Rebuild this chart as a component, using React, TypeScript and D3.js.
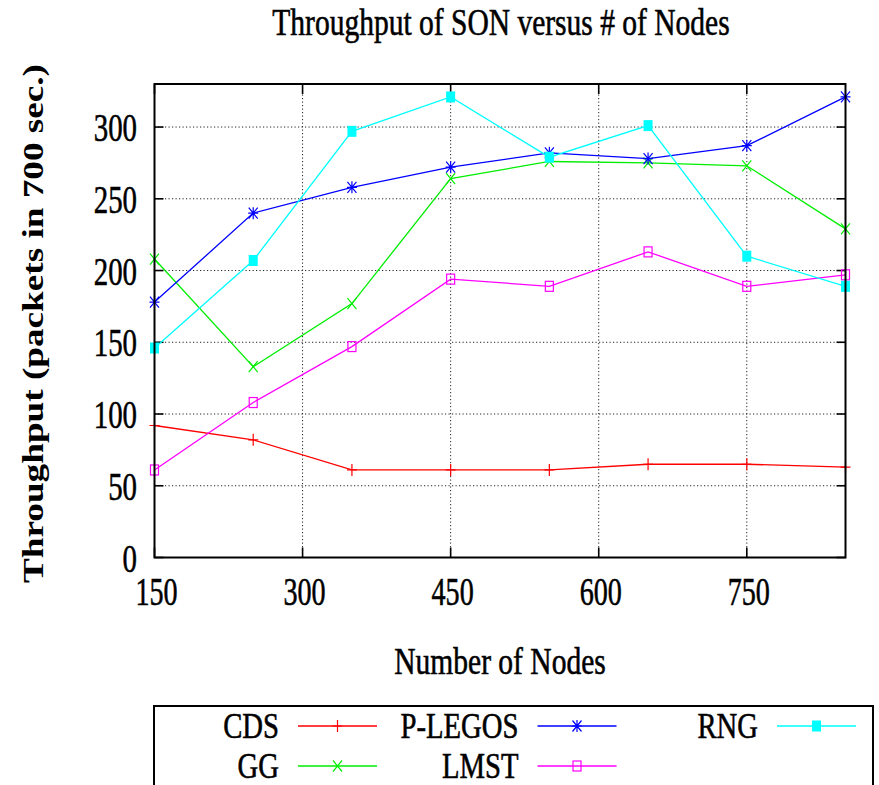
import React, { useEffect } from 'react';
import * as d3 from 'd3';

// ---- data ----
const nodes = [150, 250, 350, 450, 550, 650, 750, 850];
const cds = [92, 82, 61, 61, 61, 65, 65, 63];
const gg = [208, 133, 177, 264, 276, 275, 273, 229];
const plegos = [178, 240, 258, 272, 282, 278, 287, 321];
const lmst = [61, 108, 147, 194, 189, 213, 189, 197];
const rng = [146, 207, 297, 321, 279, 301, 210, 189];
const seriesNames = ['CDS', 'GG', 'P-LEGOS', 'LMST', 'RNG'];
const xTicks = [150, 300, 450, 600, 750];
const yTicks = [0, 50, 100, 150, 200, 250, 300];
const titleText = 'Throughput of SON versus # of Nodes';
const xLabelText = 'Number of Nodes';
const yLabelText = 'Throughput (packets in 700 sec.)';

// ---- styles ----
const seriesValues = [cds, gg, plegos, lmst, rng];
const colors = ['#ff0000', '#00ee00', '#0000ff', '#ff00ff', '#00ffff'];
const markerTypes = ['plus', 'cross', 'star', 'box', 'fbox'];
const FONT = "'Liberation Serif', 'Times New Roman', serif";

const W = 879, H = 785;
const L = 154.5, R = 845.5, T = 84, B = 557.5;

function Marker({ type, x, y, color }: { type: string; x: number; y: number; color: string }) {
  const sw = 1.2;
  const w = 4.5, h = 5.5;
  if (type === 'plus')
    return <path d={`M${x - 5},${y}H${x + 5}M${x},${y - 6}V${y + 6}`} stroke={color} strokeWidth={sw} fill="none" />;
  if (type === 'cross')
    return <path d={`M${x - w},${y - h}L${x + w},${y + h}M${x - w},${y + h}L${x + w},${y - h}`} stroke={color} strokeWidth={sw} fill="none" />;
  if (type === 'star')
    return (
      <path
        d={`M${x - w},${y - h}L${x + w},${y + h}M${x - w},${y + h}L${x + w},${y - h}M${x - 5},${y}H${x + 5}M${x},${y - 6}V${y + 6}`}
        stroke={color}
        strokeWidth={sw}
        fill="none"
      />
    );
  if (type === 'box')
    return <rect x={x - 4} y={y - 5} width={8} height={10} stroke={color} strokeWidth={sw} fill="none" />;
  return <rect x={x - 4.5} y={y - 5.5} width={9} height={11} fill={color} />;
}

function SText({ x, y, sx = 0.82, sy = 1.04, size, anchor = 'middle', children, weight }: any) {
  return (
    <text
      transform={`translate(${x},${y}) scale(${sx},${sy})`}
      textAnchor={anchor}
      fontSize={size}
      fontFamily={FONT}
      fontWeight={weight}
      fill="#000"
      stroke="#000"
      strokeWidth={0.55}
    >
      {children}
    </text>
  );
}

export default function App() {
  useEffect(() => {
    document.body.style.margin = '0';
    document.body.style.overflow = 'hidden';
  }, []);

  const x = d3.scaleLinear().domain([150, 850]).range([L, R]);
  const y = d3.scaleLinear().domain([0, 330]).range([B, T]);
  const line = d3
    .line<number>()
    .x((_, i) => x(nodes[i]))
    .y((d) => y(d));

  // legend layout: column-first, 2 rows
  const legRows = 2;
  const legTextX0 = 279, legColStep = 239.5, legRowY0 = 726, legRowStep = 40;

  return (
    <svg width={W} height={H} style={{ position: 'absolute', left: 0, top: 0, background: '#fff' }}>
      <rect x={0} y={0} width={W} height={H} fill="#fff" />
      {/* grid */}
      <g stroke="#222" strokeWidth={1} strokeDasharray="1.2,2.3">
        {xTicks.slice(1).map((t) => (
          <line key={'gx' + t} x1={x(t)} x2={x(t)} y1={T} y2={B} />
        ))}
        {yTicks.slice(1).map((t) => (
          <line key={'gy' + t} x1={L} x2={R} y1={y(t)} y2={y(t)} />
        ))}
      </g>
      {/* ticks */}
      <g stroke="#000" strokeWidth={1.6}>
        {xTicks.map((t) => (
          <g key={'tx' + t}>
            <line x1={x(t)} x2={x(t)} y1={B} y2={B - 10} />
            <line x1={x(t)} x2={x(t)} y1={T} y2={T + 10} />
          </g>
        ))}
        {yTicks.map((t) => (
          <g key={'ty' + t}>
            <line x1={L} x2={L + 9} y1={y(t)} y2={y(t)} />
            <line x1={R} x2={R - 9} y1={y(t)} y2={y(t)} />
          </g>
        ))}
      </g>
      {/* series */}
      {seriesValues.map((vals, si) => (
        <g key={'s' + si}>
          <path d={line(vals) || ''} fill="none" stroke={colors[si]} strokeWidth={1.3} />
          {vals.map((v, i) => (
            <Marker key={i} type={markerTypes[si]} x={x(nodes[i])} y={y(v)} color={colors[si]} />
          ))}
        </g>
      ))}
      {/* border */}
      <rect x={L} y={T} width={R - L} height={B - T} fill="none" stroke="#000" strokeWidth={2} />
      {/* tick labels */}
      {xTicks.map((t) => (
        <SText key={'lx' + t} x={x(t) + 2} y={605} size={38} sx={0.74}>
          {t}
        </SText>
      ))}
      {yTicks.map((t) => (
        <SText key={'ly' + t} x={137} y={y(t) + 14} size={39} sx={0.74} anchor="end">
          {t}
        </SText>
      ))}
      {/* title & labels */}
      <SText x={501} y={35} size={36}>
        {titleText}
      </SText>
      <SText x={500} y={674} size={36}>
        {xLabelText}
      </SText>
      <text
        transform={`translate(43,583) rotate(-90)`}
        textAnchor="start"
        fontSize={30}
        fontWeight="bold"
        fontFamily={FONT}
        textLength={519}
        lengthAdjust="spacingAndGlyphs"
      >
        {yLabelText}
      </text>
      {/* legend */}
      <rect x={154} y={706} width={719} height={110} fill="none" stroke="#000" strokeWidth={2} />
      {seriesNames.map((name, si) => {
        const col = Math.floor(si / legRows);
        const row = si % legRows;
        const tx = legTextX0 + col * legColStep;
        const ly = legRowY0 + row * legRowStep;
        const lx1 = tx + 19, lx2 = tx + 98;
        return (
          <g key={'leg' + si}>
            <SText x={tx} y={ly + 12} size={35} anchor="end">
              {name}
            </SText>
            <line x1={lx1} x2={lx2} y1={ly} y2={ly} stroke={colors[si]} strokeWidth={1.3} />
            <Marker type={markerTypes[si]} x={(lx1 + lx2) / 2} y={ly} color={colors[si]} />
          </g>
        );
      })}
    </svg>
  );
}
